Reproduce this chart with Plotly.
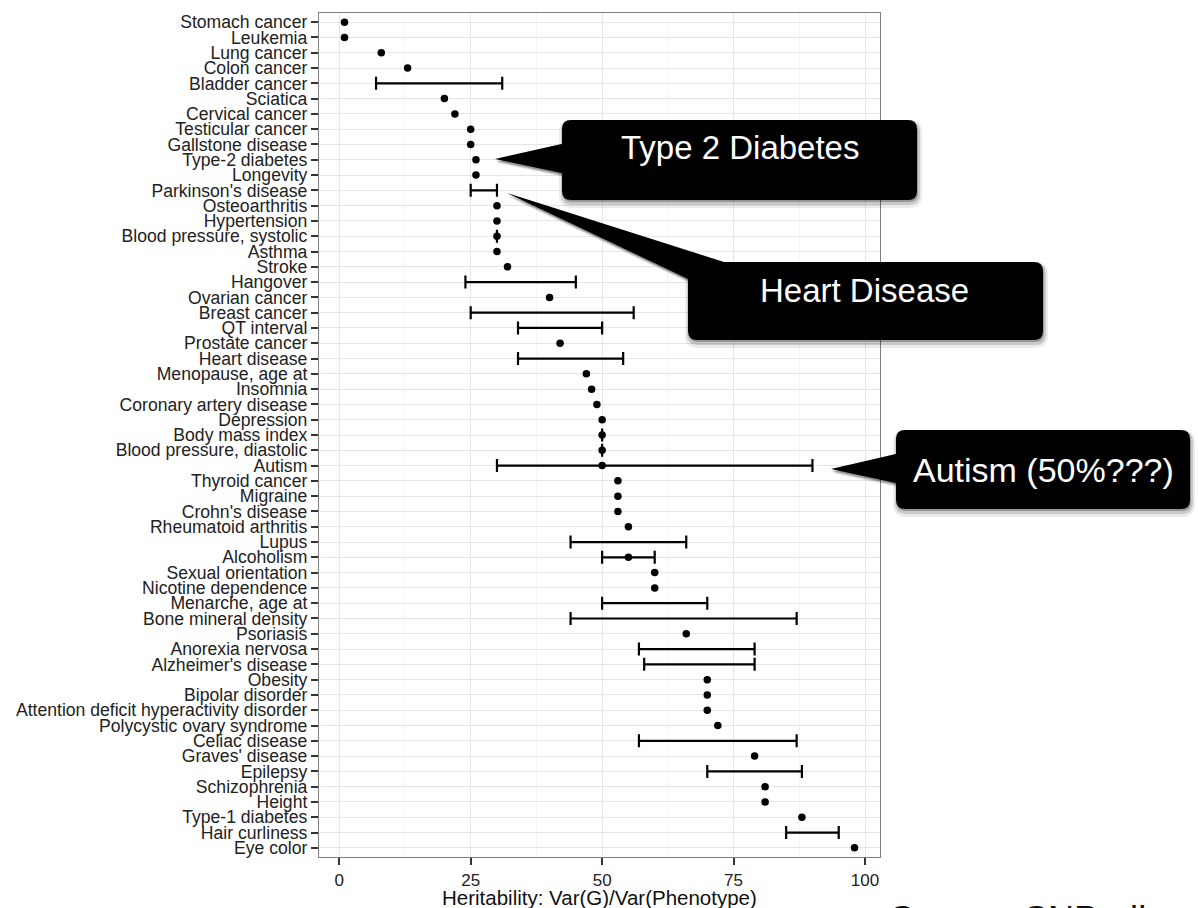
import plotly.graph_objects as go

# Traits, ordered top to bottom
traits = [
    "Stomach cancer", "Leukemia", "Lung cancer", "Colon cancer", "Bladder cancer",
    "Sciatica", "Cervical cancer", "Testicular cancer", "Gallstone disease",
    "Type-2 diabetes", "Longevity", "Parkinson's disease", "Osteoarthritis",
    "Hypertension", "Blood pressure, systolic", "Asthma", "Stroke", "Hangover",
    "Ovarian cancer", "Breast cancer", "QT interval", "Prostate cancer",
    "Heart disease", "Menopause, age at", "Insomnia", "Coronary artery disease",
    "Depression", "Body mass index", "Blood pressure, diastolic", "Autism",
    "Thyroid cancer", "Migraine", "Crohn's disease", "Rheumatoid arthritis",
    "Lupus", "Alcoholism", "Sexual orientation", "Nicotine dependence",
    "Menarche, age at", "Bone mineral density", "Psoriasis", "Anorexia nervosa",
    "Alzheimer's disease", "Obesity", "Bipolar disorder",
    "Attention deficit hyperactivity disorder", "Polycystic ovary syndrome",
    "Celiac disease", "Graves' disease", "Epilepsy", "Schizophrenia", "Height",
    "Type-1 diabetes", "Hair curliness", "Eye color",
]

# Point estimates of heritability (%), None where only a range is reported
point_estimate = [
    1, 1, 8, 13, None,
    20, 22, 25, 25,
    26, 26, None, 30,
    30, 30, 30, 32, None,
    40, None, None, 42,
    None, 47, 48, 49,
    50, 50, 50, 50,
    53, 53, 53, 55,
    None, 55, 60, 60,
    None, None, 66, None,
    None, 70, 70,
    70, 72,
    None, 79, None, 81, 81,
    88, None, 98,
]

# Reported ranges (%), None where no range is given
range_low = [
    None, None, None, None, 7,
    None, None, None, None,
    None, None, 25, None,
    None, 30, None, None, 24,
    None, 25, 34, None,
    34, None, None, None,
    None, 50, 50, 30,
    None, None, None, None,
    44, 50, None, None,
    50, 44, None, 57,
    58, None, None,
    None, None,
    57, None, 70, None, None,
    None, 85, None,
]
range_high = [
    None, None, None, None, 31,
    None, None, None, None,
    None, None, 30, None,
    None, 30, None, None, 45,
    None, 56, 50, None,
    54, None, None, None,
    None, 50, 50, 90,
    None, None, None, None,
    66, 60, None, None,
    70, 87, None, 79,
    79, None, None,
    None, None,
    87, None, 88, None, None,
    None, 95, None,
]

x_ticks = [0, 25, 50, 75, 100]
x_minor = [12.5, 37.5, 62.5, 87.5]
x_title = "Heritability: Var(G)/Var(Phenotype)"
source_text = "Source: SNPedia"

callouts = [
    # text, box (l, t, r, b), pointer polygon, text centre, font size
    ("Type 2 Diabetes", (562, 120, 917, 200),
     [(495, 159), (566, 143), (566, 174)], (739.5, 148), 33),
    ("Heart Disease", (688, 262, 1043, 340),
     [(507, 193), (724, 262), (702, 272), (690, 280)], (864, 290), 33),
    ("Autism (50%???)", (896, 430, 1190, 509),
     [(831, 469), (900, 453), (900, 484)], (1043, 469.5), 34),
]

FONT = "Liberation Sans, Arial, Helvetica, sans-serif"
W, H = 1198, 908
ML, MR, MT, MB = 319, 318, 13, 51
PW = W - ML - MR
PH = H - MT - MB


def fx(p):
    return (p - ML) / PW


def fy(p):
    return 1 - (p - MT) / PH


def pt(x, y):
    return f"{fx(x):.5f},{fy(y):.5f}"


def rounded_box(l, t, r, b, rad):
    return (
        f"M{pt(l + rad, t)} L{pt(r - rad, t)} Q{pt(r, t)} {pt(r, t + rad)} "
        f"L{pt(r, b - rad)} Q{pt(r, b)} {pt(r - rad, b)} "
        f"L{pt(l + rad, b)} Q{pt(l, b)} {pt(l, b - rad)} "
        f"L{pt(l, t + rad)} Q{pt(l, t)} {pt(l + rad, t)} Z"
    )


def polygon(points):
    return "M" + " L".join(pt(x, y) for x, y in points) + " Z"


fig = go.Figure()

# Horizontal ranges drawn as error bars anchored at the low end
rng_idx = [i for i, lo in enumerate(range_low) if lo is not None]
fig.add_trace(go.Scatter(
    x=[range_low[i] for i in rng_idx],
    y=[traits[i] for i in rng_idx],
    mode="markers",
    marker=dict(size=2, color="rgba(0,0,0,0)"),
    error_x=dict(
        type="data", symmetric=False,
        array=[range_high[i] - range_low[i] for i in rng_idx],
        arrayminus=[0] * len(rng_idx),
        color="black", thickness=2.2, width=6.5,
    ),
    hoverinfo="skip",
    showlegend=False,
))

# Point estimates
pt_idx = [i for i, v in enumerate(point_estimate) if v is not None]
fig.add_trace(go.Scatter(
    x=[point_estimate[i] for i in pt_idx],
    y=[traits[i] for i in pt_idx],
    mode="markers",
    marker=dict(size=7.5, color="black"),
    showlegend=False,
))

shapes = []
for text, (l, t, r, b), pointer, _, _ in callouts:
    # soft drop shadow
    for grow, dx, dy, alpha in [(4, 1, 4, 0.08), (2, 1, 3, 0.14), (0, 1, 2, 0.25)]:
        shapes.append(dict(
            type="path", xref="paper", yref="paper", layer="above",
            path=rounded_box(l - grow + dx, t - grow + dy, r + grow + dx, b + grow + dy, 9 + grow),
            fillcolor=f"rgba(0,0,0,{alpha})", line=dict(width=0),
        ))
        shapes.append(dict(
            type="path", xref="paper", yref="paper", layer="above",
            path=polygon([(x + dx, y + dy) for x, y in pointer]),
            fillcolor=f"rgba(0,0,0,{alpha})", line=dict(width=0),
        ))
    shapes.append(dict(
        type="path", xref="paper", yref="paper", layer="above",
        path=rounded_box(l, t, r, b, 9),
        fillcolor="black", line=dict(width=0),
    ))
    shapes.append(dict(
        type="path", xref="paper", yref="paper", layer="above",
        path=polygon(pointer),
        fillcolor="black", line=dict(width=0),
    ))

annotations = []
for text, _, _, (cx, cy), size in callouts:
    annotations.append(dict(
        text=text, xref="paper", yref="paper", x=fx(cx), y=fy(cy),
        xanchor="center", yanchor="middle", showarrow=False,
        font=dict(family=FONT, size=size, color="white"),
    ))

annotations.append(dict(
    text=x_title, xref="paper", yref="paper", x=fx(599.5), y=fy(897),
    xanchor="center", yanchor="middle", showarrow=False,
    font=dict(family=FONT, size=20.5, color="#111111"),
))
annotations.append(dict(
    text=source_text, xref="paper", yref="paper", x=fx(888), y=fy(919),
    xanchor="left", yanchor="middle", showarrow=False,
    font=dict(family=FONT, size=36, color="#111111"),
))

fig.update_layout(
    width=W, height=H,
    margin=dict(l=ML, r=MR, t=MT, b=MB, pad=0),
    paper_bgcolor="white", plot_bgcolor="white",
    font=dict(family=FONT, color="#1a1a1a"),
    shapes=shapes,
    annotations=annotations,
    xaxis=dict(
        range=[-3.85, 102.85],
        tickmode="array", tickvals=x_ticks, ticktext=[str(v) for v in x_ticks],
        ticks="outside", ticklen=7, tickwidth=1.8, tickcolor="#333333",
        tickfont=dict(family=FONT, size=17, color="#222222"),
        showgrid=True, gridcolor="#E5E5E5", gridwidth=1.2,
        minor=dict(tickvals=x_minor, showgrid=True, gridcolor="#F4F4F4",
                   gridwidth=1.4, ticks=""),
        zeroline=False,
        showline=True, mirror=True, linecolor="#7F7F7F", linewidth=1.3,
    ),
    yaxis=dict(
        type="category", categoryorder="array", categoryarray=traits,
        tickmode="array", tickvals=traits, ticktext=traits,
        range=[len(traits) - 1 + 0.6, -0.6],
        ticks="outside", ticklen=7, tickwidth=2, tickcolor="#333333",
        tickfont=dict(family=FONT, size=17.6, color="#222222"),
        showgrid=True, gridcolor="#E5E5E5", gridwidth=1.2,
        zeroline=False,
        showline=True, mirror=True, linecolor="#7F7F7F", linewidth=1.3,
    ),
)

fig.write_html("out.html")
